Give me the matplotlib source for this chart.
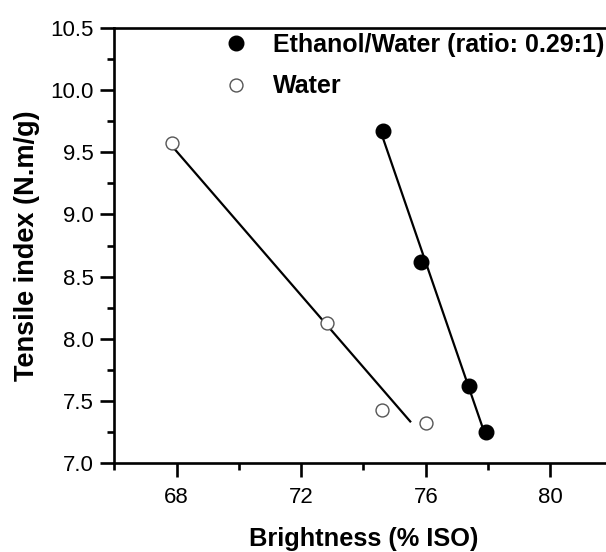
import numpy as np
import matplotlib
matplotlib.use("Agg")
import matplotlib.pyplot as plt
from matplotlib.ticker import MultipleLocator

plt.rcParams['font.family'] = ['Liberation Sans', 'DejaVu Sans']

# Data
ethanol_brightness = [74.64, 75.84, 77.38, 77.92]
ethanol_tensile = [9.67, 8.62, 7.62, 7.25]
water_brightness = [67.86, 72.82, 74.58, 76.01]
water_tensile = [9.57, 8.13, 7.43, 7.32]
ethanol_fit_range = [74.64, 77.92]
water_fit_range = [67.86, 75.5]
series_labels = ["Ethanol/Water (ratio: 0.29:1)", "Water"]
x_label = "Brightness (% ISO)"
y_label = "Tensile index (N.m/g)"

fig = plt.figure(figsize=(6.06, 5.52), dpi=100)
ax = fig.add_axes([114.3 / 606, 1 - 463.3 / 552, 498.4 / 606, 435.6 / 552])

# linear fits
for bx, ty, rng in [(ethanol_brightness, ethanol_tensile, ethanol_fit_range),
                    (water_brightness, water_tensile, water_fit_range)]:
    p = np.polyfit(bx, ty, 1)
    xs = np.array(rng)
    ax.plot(xs, np.polyval(p, xs), color='black', lw=1.6, zorder=2)

ax.plot(ethanol_brightness, ethanol_tensile, linestyle='none', marker='o',
        ms=10.5, mfc='black', mec='black', mew=1, label=series_labels[0], zorder=3)
ax.plot(water_brightness, water_tensile, linestyle='none', marker='o',
        ms=9.3, mfc='white', mec='#555555', mew=1.0, label=series_labels[1], zorder=3)

ax.set_xlim(66, 82)
ax.set_ylim(7.0, 10.5)
ax.xaxis.set_minor_locator(MultipleLocator(2))
ax.yaxis.set_major_locator(MultipleLocator(0.5))
ax.yaxis.set_minor_locator(MultipleLocator(0.25))
ax.set_xticks([68, 72, 76, 80])
ax.set_xticklabels(["68", "72", "76", "80"])
ax.yaxis.set_major_formatter(matplotlib.ticker.FormatStrFormatter('%.1f'))

for s in ['left', 'bottom', 'top']:
    ax.spines[s].set_linewidth(1.9)
ax.spines['right'].set_visible(False)

ax.tick_params(which='major', direction='out', length=10, width=1.9, labelsize=16)
ax.tick_params(which='minor', direction='out', length=5, width=1.9)
ax.tick_params(axis='x', which='both', pad=7)
ax.tick_params(axis='y', which='both', pad=5)
ax.tick_params(top=False, right=False)

ax.set_xlabel(x_label, fontsize=18.3, fontweight='bold', labelpad=14)
ax.set_ylabel(y_label, fontsize=19.5, fontweight='bold', labelpad=7)

leg = ax.legend(loc='upper left', bbox_to_anchor=(223 / 606, 1 - 33 / 552),
                bbox_transform=fig.transFigure, frameon=False,
                prop={'size': 18, 'weight': 'bold'}, handlelength=1.0,
                handletextpad=1.0, labelspacing=0.69, borderaxespad=0,
                borderpad=0)

fig.savefig("out.png", dpi=100)
